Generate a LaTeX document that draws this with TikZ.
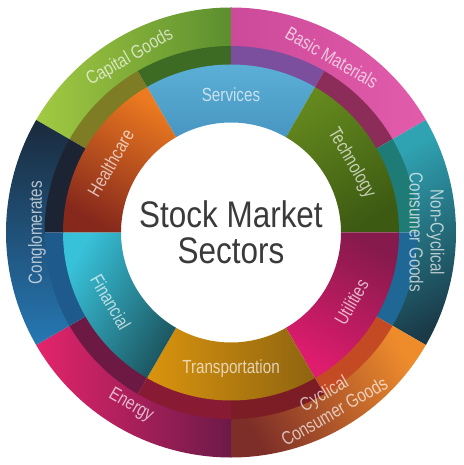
\documentclass[tikz,border=0pt]{standalone}
\usepackage{fontspec}
\newfontfamily\sectorfont[FakeStretch=0.8]{Liberation Sans}
\newfontfamily\hubfont[FakeStretch=0.85]{Liberation Sans}
% ring colours
\definecolor{capA}{HTML}{A2CA42}\definecolor{capB}{HTML}{5C8E2E}
\definecolor{basA}{HTML}{E25CAA}\definecolor{basB}{HTML}{CC4A9A}
\definecolor{ncyA}{HTML}{2FA3B2}\definecolor{ncyB}{HTML}{1A3A48}
\definecolor{cycA}{HTML}{EE8C2C}\definecolor{cycB}{HTML}{7E2E28}
\definecolor{eneA}{HTML}{E4246C}\definecolor{eneB}{HTML}{6C1A48}
\definecolor{conA}{HTML}{2678B4}\definecolor{conB}{HTML}{1A2A3C}
\definecolor{serA}{HTML}{5DB2D8}\definecolor{serB}{HTML}{4896C2}
\definecolor{tecA}{HTML}{64881E}\definecolor{tecB}{HTML}{3C5A12}
\definecolor{utiA}{HTML}{E01C6E}\definecolor{utiB}{HTML}{861A4C}
\definecolor{traA}{HTML}{DA940E}\definecolor{traB}{HTML}{8E6410}
\definecolor{finA}{HTML}{38C2DA}\definecolor{finB}{HTML}{1C5660}
\definecolor{heaA}{HTML}{EC7A20}\definecolor{heaB}{HTML}{86281C}
\definecolor{hubtext}{HTML}{3A3A3A}
% annular piece: start angle, end angle, inner radius, outer radius, style
\newcommand{\ringpart}[5]{%
  \path[#5] (#1:#3) arc[start angle=#1, end angle=#2, radius=#3]
    -- (#2:#4) arc[start angle=#2, end angle=#1, radius=#4] -- cycle;}
\tikzset{
  grad/.style n args={3}{top color=#1, bottom color=#2, shading angle=#3},
  seclabel/.style={font=\sectorfont\fontsize{19}{21}\selectfont, text=white,
    text opacity=0.68, align=center, inner sep=0pt},
}
\begin{document}
\begin{tikzpicture}[x=1pt,y=1pt]
\useasboundingbox (-231,-232.5) rectangle (232,232.5);
% outer ring, light band
\ringpart{90}{150}{186}{225}{grad={capA}{capB}{90}}
\ringpart{30}{90}{186}{225}{grad={basB}{basA}{90}}
\ringpart{-30}{30}{186}{225}{grad={ncyA}{ncyB}{30}}
\ringpart{-90}{-30}{186}{225}{grad={cycA}{cycB}{-60}}
\ringpart{-150}{-90}{186}{225}{grad={eneA}{eneB}{90}}
\ringpart{150}{210}{186}{225}{grad={conA}{conB}{180}}
% outer ring, dark band over the inner sectors
\foreach \a/\c in {120/7E7C24, 90/3E6B24, 60/7B4E9E, 30/8C2C58,
                   0/1F7B76, -30/1F6896, -60/C44A24, -90/7C1C24,
                   -120/881A34, -150/6C1A44, 180/1E5A8C, 150/1C2434}{
  \definecolor{band}{HTML}{\c}
  \ringpart{\a}{\a+30}{167}{186.5}{fill=band}
}
% inner ring
\ringpart{60}{120}{110}{168}{grad={serA}{serB}{0}}
\ringpart{0}{60}{110}{168}{grad={tecA}{tecB}{30}}
\ringpart{-60}{0}{110}{168}{grad={utiA}{utiB}{150}}
\ringpart{-120}{-60}{110}{168}{grad={traA}{traB}{90}}
\ringpart{180}{240}{110}{168}{grad={finA}{finB}{60}}
\ringpart{120}{180}{110}{168}{grad={heaA}{heaB}{-30}}
% outer labels
\node[seclabel, rotate=30] (capital) at (120:202) {Capital Goods};
\node[seclabel, rotate=-30] (basic) at (60:202) {Basic Materials};
\node[seclabel, rotate=-90] (noncyc) at (0:196) {Non-Cyclical\\Consumer Goods};
\node[seclabel, rotate=30] (cyclical) at (-60:196) {Cyclical\\Consumer Goods};
\node[seclabel, rotate=-30] (energy) at (240:200) {Energy};
\node[seclabel, rotate=90] (conglo) at (180:194) {Conglomerates};
% inner labels
\node[seclabel] (services) at (90:138) {Services};
\node[seclabel, rotate=-60] (tech) at (30:139) {Technology};
\node[seclabel, rotate=60] (utilities) at (-30:139) {Utilities};
\node[seclabel] (transport) at (-90:136) {Transportation};
\node[seclabel, rotate=-60] (financial) at (210:139) {Financial};
\node[seclabel, rotate=60] (health) at (150:139) {Healthcare};
% hub
\node[font=\hubfont\fontsize{37}{36}\selectfont, text=hubtext, align=center,
  inner sep=0pt] (hub) at (0,0) {Stock Market\\Sectors};
\end{tikzpicture}
\end{document}
